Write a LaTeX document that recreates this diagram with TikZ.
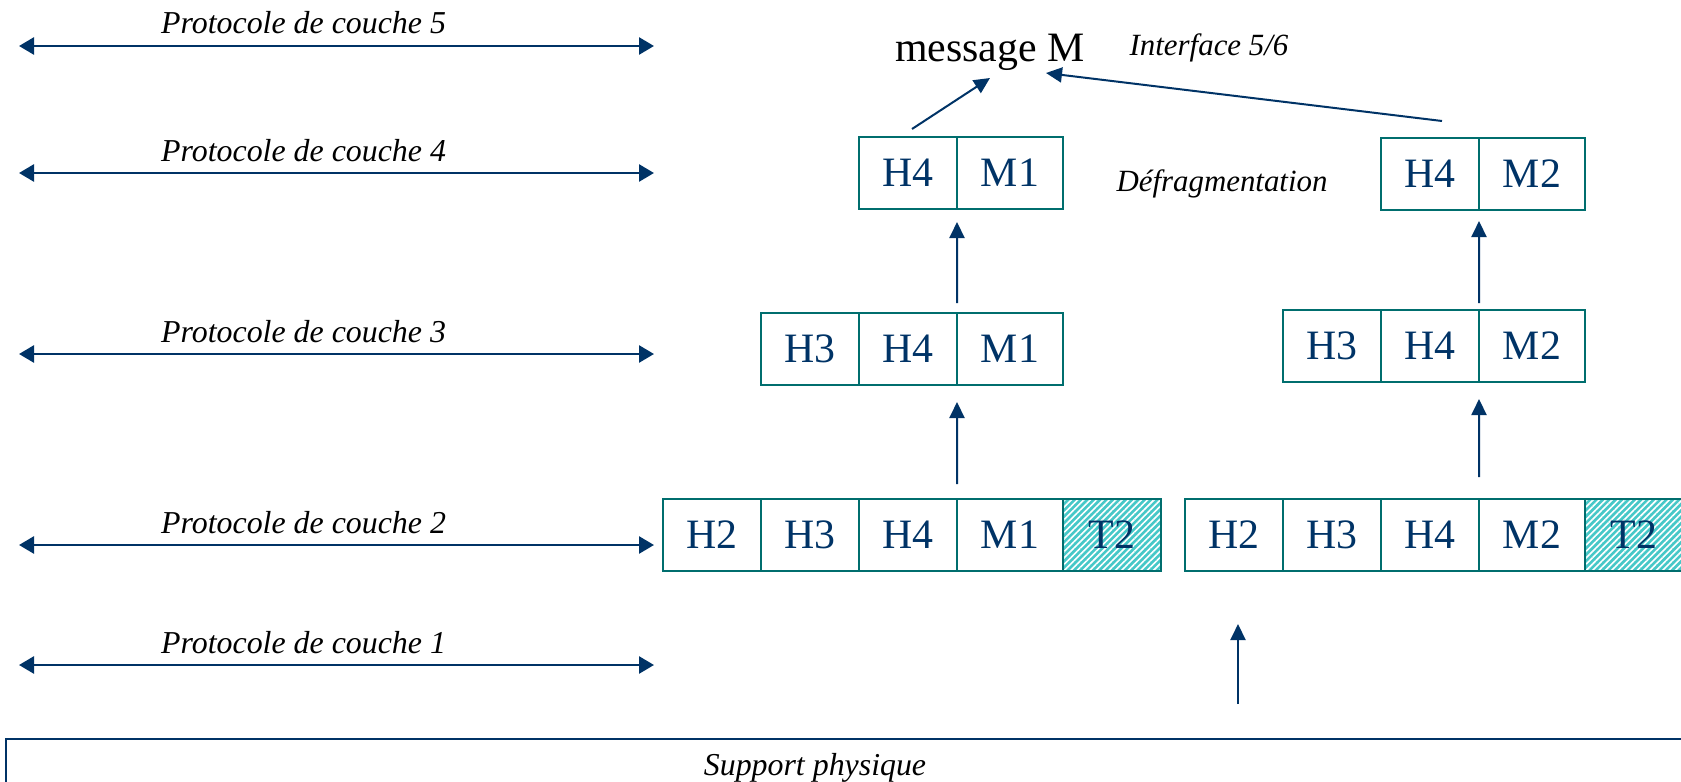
\documentclass[tikz,border=0pt]{standalone}
\usepackage{fontspec}
\setmainfont{Liberation Serif}
\usetikzlibrary{arrows.meta,patterns.meta,calc}
\definecolor{navy}{RGB}{0,51,102}
\definecolor{celledge}{RGB}{0,110,110}
\definecolor{hatchbg}{RGB}{70,200,200}
\tikzset{
  x=1bp, y=-1bp,
  cell/.style={draw=celledge, line width=1.6bp, inner sep=0pt, outer sep=0pt,
    minimum height=72bp, text=navy, font=\fontsize{42}{46}\selectfont, anchor=north west},
  hw/.style={minimum width=98bp},
  mw/.style={minimum width=106bp},
  trailer/.style={cell, hw, preaction={fill=hatchbg},
    pattern={Lines[angle=45,distance=4.5bp,line width=1.6bp]}, pattern color=white},
  conn/.style={draw=navy, line width=2bp, -{Triangle[length=16bp,width=15bp]}},
  proto/.style={draw=navy, line width=2.6bp,
    {Triangle[length=15bp,width=17bp]}-{Triangle[length=15bp,width=17bp]}},
  plabel/.style={font=\fontsize{32}{36}\selectfont\itshape, anchor=base west, inner sep=0pt},
  note/.style={font=\fontsize{31}{36}\selectfont\itshape, inner sep=0pt},
}
\begin{document}
\begin{tikzpicture}
\useasboundingbox (0,0) rectangle (1681,782);

% protocol arrows between peer layers
\foreach \n/\y in {5/46,4/173,3/354,2/545,1/665}{
  \coordinate (pl\n) at (19,\y);
  \coordinate (pr\n) at (654,\y);
  \draw[proto] (pl\n) -- (pr\n);
  \node[plabel] (pt\n) at (161,\y-12) {Protocole de couche \n};
}

% layer 2, first frame
\node[cell,hw] (la1) at (663,499) {H2};
\node[cell,hw] (la2) at (la1.north east) {H3};
\node[cell,hw] (la3) at (la2.north east) {H4};
\node[cell,mw] (la4) at (la3.north east) {M1};
\node[trailer] (la5) at (la4.north east) {T2};

% layer 2, second frame
\node[cell,hw] (ra1) at (1185,499) {H2};
\node[cell,hw] (ra2) at (ra1.north east) {H3};
\node[cell,hw] (ra3) at (ra2.north east) {H4};
\node[cell,mw] (ra4) at (ra3.north east) {M2};
\node[trailer] (ra5) at (ra4.north east) {T2};

% layer 3
\node[cell,hw] (lb1) at (761,313) {H3};
\node[cell,hw] (lb2) at (lb1.north east) {H4};
\node[cell,mw] (lb3) at (lb2.north east) {M1};
\node[cell,hw] (rb1) at (1283,310) {H3};
\node[cell,hw] (rb2) at (rb1.north east) {H4};
\node[cell,mw] (rb3) at (rb2.north east) {M2};

% layer 4
\node[cell,hw] (lc1) at (859,137) {H4};
\node[cell,mw] (lc2) at (lc1.north east) {M1};
\node[cell,hw] (rc1) at (1381,138) {H4};
\node[cell,mw] (rc2) at (rc1.north east) {M2};

% upward flow
\draw[conn] ([yshift=15bp]la3.north east) -- ([yshift=-17bp]lb2.south east);
\draw[conn] ([yshift=10bp]lb2.north east) -- ([yshift=-13bp]lc1.south east);
\draw[conn] ([yshift=22bp]ra3.north east) -- ([yshift=-17bp]rb2.south east);
\draw[conn] ([yshift=7bp]rb2.north east) -- ([yshift=-11bp]rc1.south east);

% reassembly into the message
\node[font=\fontsize{42}{46}\selectfont, inner sep=0pt] (msg) at (990,52) {message M};
\node[note] (iface) at (1209,48) {Interface 5/6};
\node[note] (defrag) at (1222,184) {Défragmentation};
\coordinate (fa) at (912,129);
\coordinate (fb) at (1442,121);
\coordinate (ma) at (990,78);
\coordinate (mb) at (1046,73);
\draw[conn] (fa) -- (ma);
\draw[conn] (fb) -- (mb);

% physical medium
\node[draw=navy, line width=1.6bp, anchor=north west, minimum width=1700bp,
  minimum height=60bp, inner sep=0pt] (phys) at (5,738) {};
\node[note, font=\fontsize{32}{36}\selectfont\itshape] (physlbl) at (815,768) {Support physique};
\coordinate (up0) at (1238,704);
\coordinate (up1) at (1238,624);
\draw[conn] (up0) -- (up1);
\end{tikzpicture}
\end{document}
